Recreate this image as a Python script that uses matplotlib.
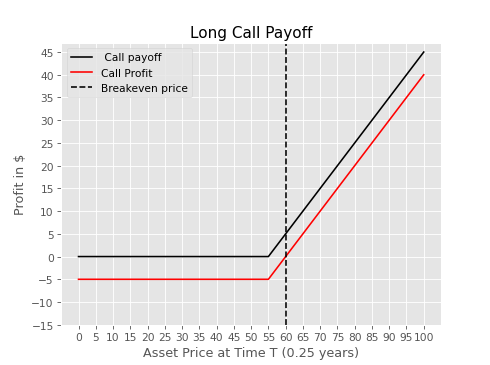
import matplotlib
matplotlib.use('Agg')
import matplotlib.pyplot as plt
import numpy as np

plt.style.use('ggplot')

# kink points of the payoff diagram
asset_price = np.array([0, 55, 100])
call_payoff = np.array([0, 0, 45])
call_profit = np.array([-5, -5, 40])
breakeven = 60

xticks = np.arange(0, 105, 5)
yticks = np.arange(-15, 50, 5)

fig, ax = plt.subplots(figsize=(6.4, 4.78), dpi=76.5625)
ax.plot(asset_price, call_payoff, color='black', label=' Call payoff')
ax.plot(asset_price, call_profit, color='red', label='Call Profit')
ax.axvline(breakeven, color='black', linestyle='--', label='Breakeven price')
ax.set_xticks(xticks)
ax.set_yticks(yticks)
ax.set_ylim(-15, 47)
ax.set_xlabel('Asset Price at Time T (0.25 years)')
ax.set_ylabel('Profit in $')
ax.set_title('Long Call Payoff')
ax.legend(loc='upper left')
fig.savefig('out.png')
